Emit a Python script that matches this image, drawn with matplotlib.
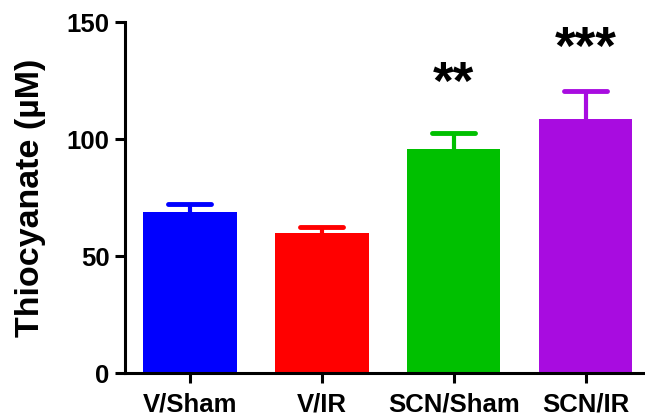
import matplotlib
matplotlib.use("Agg")
import matplotlib.pyplot as plt

categories = ["V/Sham", "V/IR", "SCN/Sham", "SCN/IR"]
means = [68.8, 59.7, 95.7, 108.5]
errors = [3.4, 2.8, 6.7, 12.2]
colors = ["#0000FF", "#FF0000", "#00C000", "#A80CE0"]
stars = ["", "", "**", "***"]
star_y = [0, 0, 112.5, 127.5]

plt.rcParams['font.family'] = ['Liberation Sans', 'DejaVu Sans']
plt.rcParams['font.weight'] = 'bold'

fig = plt.figure(figsize=(6.45, 4.19), dpi=100)
ax = fig.add_axes([125/645, 1 - 373/419, 1 - 125/645, (373 - 22)/419])

x = list(range(len(categories)))
ax.bar(x, means, width=0.71, color=colors, zorder=2)
cap_half = 0.165
for xi, m, e, c in zip(x, means, errors, colors):
    ax.vlines(xi, m, m + e, colors=c, linewidth=3, zorder=1)
    ax.hlines(m + e, xi - cap_half, xi + cap_half, colors=c, linewidth=3.5,
              zorder=1, capstyle='round')
for xi, s, sy in zip(x, stars, star_y):
    if s:
        ax.text(xi, sy, s, ha='center', va='bottom', fontsize=38,
                fontweight='bold', color='black')

ax.set_xlim(-0.49, 3.45)
ax.set_ylim(0, 150)
ax.set_yticks([0, 50, 100, 150])
ax.set_xticks(x)
ax.set_xticklabels(categories)
ax.set_ylabel("Thiocyanate (\u00b5M)", fontsize=24.5, fontweight='bold')
ax.yaxis.set_label_coords(-0.152, 0.5)

for side in ['top', 'right']:
    ax.spines[side].set_visible(False)
for side in ['left', 'bottom']:
    ax.spines[side].set_linewidth(2.2)
ax.tick_params(axis='both', width=2.2, length=7, labelsize=18.5)
ax.tick_params(axis='y', pad=4)
ax.tick_params(axis='x', pad=7)
for lab in ax.get_xticklabels() + ax.get_yticklabels():
    lab.set_fontweight('bold')

fig.savefig("out.png", dpi=100)
